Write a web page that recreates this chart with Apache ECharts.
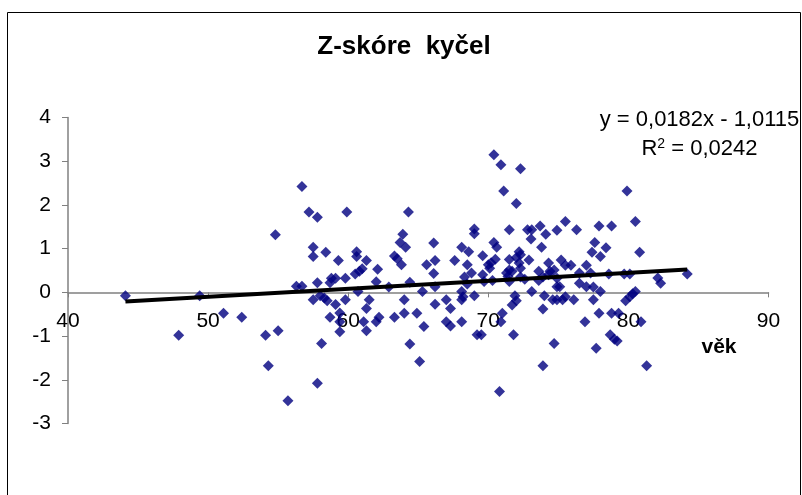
<!DOCTYPE html>
<html>
<head>
<meta charset="utf-8">
<script src="https://cdn.jsdelivr.net/npm/echarts@6/dist/echarts.min.js"></script>
<style>
  html, body { margin: 0; padding: 0; background: #fff; }
  #chart { width: 802px; height: 495px; }
</style>
</head>
<body>
<div id="chart"></div>
<script>
// ---- data ----
const titleText = 'Z-skóre  kyčel';
const xAxisName = 'věk';
const equationText = 'y = 0,0182x - 1,0115';
const r2Label = '0,0242';
const trendSlope = 0.0182;
const trendIntercept = -1.0115;

const ageVals = [
  44.1, 47.9, 49.4, 51.1, 52.4, 54.1, 54.3, 54.8, 55.0, 55.7,
  56.3, 56.7, 56.7, 57.2, 57.5, 57.5, 57.5, 57.8, 57.8, 57.8,
  58.0, 58.1, 58.3, 58.4, 58.5, 58.7, 58.7, 58.8, 59.1, 59.1,
  59.3, 59.4, 59.4, 59.4, 59.8, 59.8, 59.9, 60.6, 60.6, 60.5,
  60.8, 61.0, 61.3, 60.7, 61.5, 61.3, 61.1, 61.3, 62.0, 62.2,
  62.1, 62.0, 62.9, 63.3, 63.3, 63.5, 63.8, 63.9, 63.7, 64.1,
  64.0, 64.0, 64.3, 64.4, 64.4, 64.9, 65.1, 65.3, 65.4, 65.6,
  66.1, 66.2, 66.1, 66.2, 66.2, 67.0, 67.0, 67.3, 67.3, 67.6,
  68.1, 68.1, 68.2, 68.1, 68.1, 68.5, 68.3, 68.5, 68.6, 68.8,
  69.0, 69.0, 69.0, 69.2, 69.5, 69.6, 69.6, 69.7, 70.0, 70.2,
  70.5, 70.1, 70.3, 70.4, 70.4, 70.6, 70.9, 70.8, 71.1, 71.0,
  70.9, 71.5, 71.5, 71.5, 71.3, 71.7, 71.4, 71.5, 71.9, 72.0,
  71.7, 71.8, 72.0, 72.3, 72.2, 72.3, 72.0, 72.2, 72.3, 72.3,
  72.6, 72.8, 73.1, 73.05, 72.9, 73.1, 73.7, 73.8, 73.6, 73.6,
  73.9, 73.9, 73.9, 74.0, 74.1, 74.3, 74.3, 74.4, 74.7, 74.9,
  74.9, 74.6, 74.9, 75.3, 74.7, 74.9, 75.2, 75.5, 75.5, 75.9,
  75.1, 75.5, 76.1, 76.3, 76.5, 76.5, 77.0, 77.0, 77.5, 77.5,
  76.9, 77.4, 77.3, 77.6, 77.7, 77.9, 78.0, 78.0, 78.4, 77.9,
  78.6, 78.8, 78.8, 78.7, 79.0, 79.2, 79.3, 79.7, 80.1, 79.9,
  80.5, 80.8, 80.5, 80.3, 80.1, 79.8, 80.9, 81.3, 82.1, 82.3,
  84.2
];
const zVals = [
  -0.08, -0.98, -0.08, -0.48, -0.57, -0.98, -1.68, 1.32, -0.88, -2.48,
  0.14, 0.14, 2.42, 1.84, -0.17, 1.03, 0.82, 1.72, -2.08, 0.22,
  -0.08, -1.17, -0.13, 0.92, -0.19, 0.22, -0.57, 0.32, 0.32, -0.28,
  0.73, -0.47, -0.67, -0.90, 0.32, -0.17, 1.84, 0.93, 0.82, 0.42,
  0.48, 0.54, 0.73, 0.02, -0.17, -0.37, -0.67, -0.88, -0.67, -0.57,
  0.53, 0.24, 0.12, -0.57, 0.83, 0.77, 0.63, 1.33, 1.14, 1.03,
  -0.17, -0.48, 1.84, 0.23, -1.18, -0.48, -1.58, 0.02, -0.78, 0.63,
  1.13, 0.73, 0.43, 0.13, -0.27, -0.17, -0.67, -0.77, -0.37, 0.73,
  1.03, 0.02, -0.10, -0.17, -0.67, 0.63, 0.35, 0.19, 0.93, 0.44,
  1.45, 1.34, -0.08, -0.97, -0.97, 0.84, 0.40, 0.25, 0.63, 0.68,
  0.76, 0.55, 0.27, 3.15, 1.14, 1.03, 2.92, -2.27, 2.32, -0.48,
  -0.67, 1.43, 0.75, 0.51, 0.44, 0.48, 0.36, 0.25, -0.08, -0.19,
  -0.29, -0.97, 2.03, 2.83, 0.93, 0.86, 0.80, 0.67, 0.55, 0.35,
  0.30, 1.43, 1.43, 1.22, 0.74, 0.02, 1.52, 1.03, 0.48, 0.27,
  0.35, -0.38, -1.68, -0.08, 1.33, 0.67, 0.40, 0.48, 0.51, 0.32,
  0.13, -0.17, -0.17, -0.17, -1.17, 1.42, 0.74, 1.62, 0.62, 0.62,
  0.13, -0.10, -0.17, 1.43, 0.44, 0.21, 0.62, 0.13, 0.12, -0.17,
  -0.67, 0.92, 0.44, 1.14, -1.28, 1.52, 0.82, 0.02, 1.02, -0.48,
  0.42, 1.52, -0.48, -0.97, -1.07, -1.11, -0.48, 0.42, 0.42, 2.32,
  1.62, 0.92, 0.02, -0.03, -0.10, -0.19, -0.67, -1.68, 0.33, 0.21,
  0.42
];

// ---- build series data ----
const points = ageVals.map((a, i) => [a, zVals[i]]);
const xMinData = Math.min.apply(null, ageVals);
const xMaxData = Math.max.apply(null, ageVals);
const trendData = [xMinData, xMaxData].map(x => [x, trendSlope * x + trendIntercept]);

const FONT = '"Liberation Sans", Arial, sans-serif';

// grid geometry (layout only)
const GRID_TOP = 117.5, GRID_BOTTOM = 71.5, CHART_H = 495;
const Y_MIN = -3, Y_MAX = 4;
const plotH = CHART_H - GRID_TOP - GRID_BOTTOM;
// move the x axis up so it crosses the y axis at 0 (as in the reference)
const xAxisOffset = -(plotH * (0 - Y_MIN) / (Y_MAX - Y_MIN));

const chart = echarts.init(document.getElementById('chart'), null, { renderer: 'canvas' });
chart.setOption({
  animation: false,
  backgroundColor: '#ffffff',
  grid: {
    left: 68, right: 33.5, top: GRID_TOP, bottom: GRID_BOTTOM,
    containLabel: false,
    outerBoundsMode: 'none'
  },
  xAxis: {
    type: 'value',
    position: 'bottom',
    offset: xAxisOffset,
    min: 40, max: 90, interval: 10,
    axisLine: { onZero: false, lineStyle: { color: '#808080', width: 1.5 } },
    axisTick: { show: true, inside: false, length: 5, lineStyle: { color: '#808080' } },
    axisLabel: { color: '#000', fontFamily: FONT, fontSize: 21, margin: 18 },
    splitLine: { show: false }
  },
  yAxis: {
    type: 'value',
    min: Y_MIN, max: Y_MAX, interval: 1,
    axisLine: { show: true, onZero: false, lineStyle: { color: '#808080', width: 1.5 } },
    axisTick: { show: true, inside: false, length: 6, lineStyle: { color: '#808080' } },
    axisLabel: { color: '#000', fontFamily: FONT, fontSize: 21, margin: 17 },
    splitLine: { show: false }
  },
  series: [
    {
      type: 'scatter',
      data: points,
      symbol: 'diamond',
      symbolSize: 11,
      itemStyle: { color: '#000080' },
      z: 2
    },
    {
      type: 'line',
      data: trendData,
      showSymbol: false,
      symbol: 'none',
      lineStyle: { color: '#000000', width: 4 },
      z: 3
    }
  ],
  graphic: [
    {
      type: 'rect',
      shape: { x: 7.5, y: 12.5, width: 793, height: 500 },
      style: { fill: null, stroke: '#000', lineWidth: 1 },
      silent: true, z: 0
    },
    {
      type: 'text',
      x: 404, y: 47,
      style: {
        text: titleText,
        font: 'bold 26px ' + FONT,
        fill: '#000',
        textAlign: 'center',
        textVerticalAlign: 'middle'
      }
    },
    {
      type: 'text',
      x: 719, y: 347,
      style: {
        text: xAxisName,
        font: 'bold 21px ' + FONT,
        fill: '#000',
        textAlign: 'center',
        textVerticalAlign: 'middle'
      }
    },
    {
      type: 'text',
      x: 699.5, y: 120,
      style: {
        text: equationText,
        font: '22px ' + FONT,
        fill: '#000',
        textAlign: 'center',
        textVerticalAlign: 'middle'
      }
    },
    {
      type: 'text',
      x: 699.5, y: 149,
      style: {
        text: '{n|R}{s|2}{n| = ' + r2Label + '}',
        fill: '#000',
        textAlign: 'center',
        textVerticalAlign: 'middle',
        rich: {
          n: { fontSize: 22, fontFamily: FONT, fill: '#000', lineHeight: 24 },
          s: { fontSize: 14, fontFamily: FONT, fill: '#000', verticalAlign: 'top', lineHeight: 24 }
        }
      }
    }
  ]
});
</script>
</body>
</html>
